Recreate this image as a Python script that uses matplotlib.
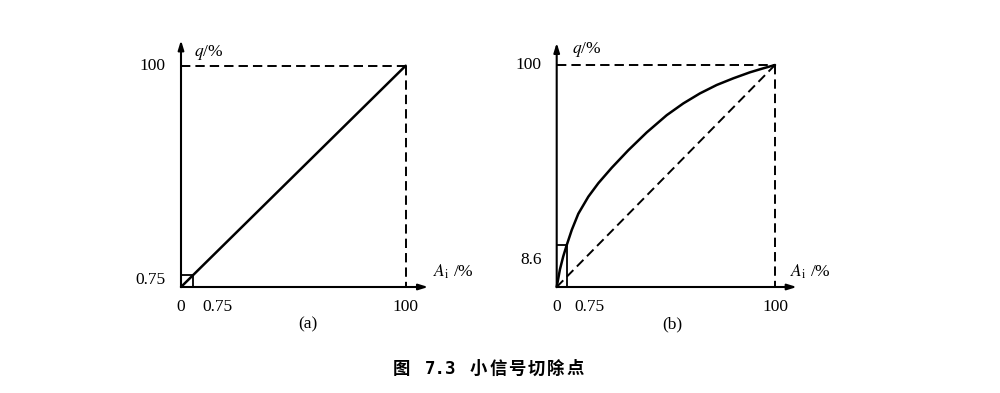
import matplotlib
matplotlib.use("Agg")
import matplotlib.pyplot as plt

plt.rcParams['mathtext.fontset'] = 'stix'

# ---- data ----
# panel (a): linear characteristic
a_x = [0, 100]
a_y = [0, 100]
a_cut_disp = 5.3          # drawn (exaggerated) size of the 0.75 cut-off box
# panel (b): square-root-like characteristic
b_x = [0, 1.5, 3, 4.6, 6.9, 9.9, 14.5, 19.1, 25.2, 32.8, 41.2, 50.4, 58, 65.6, 73.3, 80.9, 88.5, 94.6, 100]
b_y = [0, 8, 13.8, 18.9, 25.7, 33.0, 40.7, 46.8, 53.7, 61.6, 69.6, 77.4, 82.7, 87.2, 91.0, 94.0, 96.7, 98.5, 100]
b_cut_x_disp = 4.6
b_cut_y_disp = 19.0
diag_x = [0, 100]
diag_y = [0, 100]

a_ytick_labels = ['0.75', '100']
a_xtick_labels = ['0', '0.75', '100']
b_ytick_labels = ['8.6', '100']
b_xtick_labels = ['0', '0.75', '100']
panel_labels = ['(a)', '(b)']
caption_fig = '图'
caption_num = '7.3'
caption_title = '小信号切除点'

W, H = 1000, 393
fig = plt.figure(figsize=(W / 100, H / 100), dpi=100)

XMIN, XMAX, YMIN, YMAX = -25, 120, -25, 118


def make_ax(x0, y0, xs, ys):
    left = x0 + XMIN * xs
    right = x0 + XMAX * xs
    top = y0 - YMAX * ys
    bottom = y0 - YMIN * ys
    ax = fig.add_axes([left / W, 1 - bottom / H, (right - left) / W, (bottom - top) / H])
    ax.set_xlim(XMIN, XMAX)
    ax.set_ylim(YMIN, YMAX)
    ax.axis('off')
    return ax


serif = dict(family='Liberation Serif', fontsize=12.5, color='black')
lw_axis = 1.5
lw_curve = 1.8
lw_dash = 1.4
dash = (0, (4.8, 2.6))


def draw_frame(ax, ytop, xend):
    ax.annotate('', xy=(0, ytop), xytext=(0, 0),
                arrowprops=dict(arrowstyle='-|>,head_length=0.55,head_width=0.17',
                                color='black', lw=lw_axis, shrinkA=0, shrinkB=0))
    ax.annotate('', xy=(xend, 0), xytext=(0, 0),
                arrowprops=dict(arrowstyle='-|>,head_length=0.55,head_width=0.17',
                                color='black', lw=lw_axis, shrinkA=0, shrinkB=0))
    ax.plot([0, 100], [100, 100], color='black', lw=lw_dash, linestyle=dash)
    ax.plot([100, 100], [100, 0], color='black', lw=lw_dash, linestyle=dash)


# ---- panel (a) ----
axa = make_ax(181, 287, 2.247, 2.213)
draw_frame(axa, 111.5, 110)
axa.plot(a_x, a_y, color='black', lw=lw_curve, solid_capstyle='round')
axa.plot([0, a_cut_disp, a_cut_disp], [a_cut_disp, a_cut_disp, 0], color='black', lw=1.3)
axa.text(-7, 100, a_ytick_labels[1], ha='right', va='center', **serif)
axa.text(-7, 3, a_ytick_labels[0], ha='right', va='center', **serif)
axa.text(0, -9, a_xtick_labels[0], ha='center', va='center', **serif)
axa.text(9.5, -9, a_xtick_labels[1], ha='left', va='center', **serif)
axa.text(100, -9, a_xtick_labels[2], ha='center', va='center', **serif)
axa.text(6, 106, r'$q$/%', ha='left', va='center', **serif)
axa.text(112, 7, r'$A_{\mathrm{i}}$ /%', ha='left', va='center', **serif)
axa.text(56.5, -17, panel_labels[0], ha='center', va='center', **serif)

# ---- panel (b) ----
axb = make_ax(556.7, 287, 2.183, 2.22)
draw_frame(axb, 110, 110)
axb.plot(diag_x, diag_y, color='black', lw=lw_dash, linestyle=dash)
axb.plot(b_x, b_y, color='black', lw=lw_curve, solid_capstyle='round', solid_joinstyle='round')
axb.plot([0, b_cut_x_disp, b_cut_x_disp], [b_cut_y_disp, b_cut_y_disp, 0], color='black', lw=1.3)
axb.text(-7, 100, b_ytick_labels[1], ha='right', va='center', **serif)
axb.text(-7, 12, b_ytick_labels[0], ha='right', va='center', **serif)
axb.text(0, -9, b_xtick_labels[0], ha='center', va='center', **serif)
axb.text(8, -9, b_xtick_labels[1], ha='left', va='center', **serif)
axb.text(100, -9, b_xtick_labels[2], ha='center', va='center', **serif)
axb.text(7, 107, r'$q$/%', ha='left', va='center', **serif)
axb.text(107, 7, r'$A_{\mathrm{i}}$ /%', ha='left', va='center', **serif)
axb.text(53, -17, panel_labels[1], ha='center', va='center', **serif)

# ---- caption ----
cjk = dict(family=['Noto Sans CJK SC', 'DejaVu Sans'], fontsize=12.5, weight='bold',
           va='center', ha='center')
cy = 1 - 369 / H
fig.text(401 / W, cy, caption_fig, **cjk)
fig.text(441 / W, cy, caption_num, family='DejaVu Sans Mono', fontsize=12.5, weight='bold',
         va='center', ha='center')
for i, ch in enumerate(caption_title):
    fig.text((478.5 + 19.3 * i) / W, cy, ch, **cjk)

fig.savefig('out.png', dpi=100)
